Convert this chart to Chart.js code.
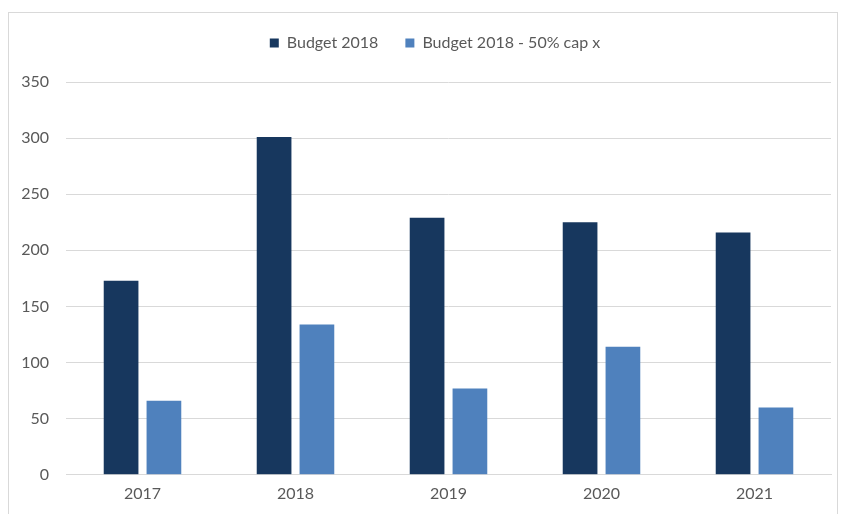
<!DOCTYPE html>
<html>
<head>
<meta charset="utf-8">
<script src="https://cdn.jsdelivr.net/npm/chart.js@4/dist/chart.umd.min.js"></script>
<style>
  body { margin: 0; background: #fff; }
  .frame {
    position: absolute; left: 8px; top: 12px;
    width: 830px; height: 510px;
    border: 1px solid #d9d9d9; box-sizing: border-box;
  }
  canvas { display: block; }
</style>
</head>
<body>
<div class="frame"><canvas id="myChart" width="828" height="508"></canvas></div>
<script>
// budget per year, full vs. 50% capex
const years = ['2017', '2018', '2019', '2020', '2021']
const budget = [173, 301, 229, 225, 216]
const budgetCapped = [66, 134, 77, 114, 60]
const yTicks = [0, 50, 100, 150, 200, 250, 300, 350]

const gray = '#595959'
const font = {family: 'Lato, "Open Sans", sans-serif', size: 16}

// legend: a bit more room below it, and nudged right / up
const legendTweak = {
  id: 'legendTweak',
  beforeInit(chart) {
    const fit = chart.legend.fit
    chart.legend.fit = function() {
      fit.bind(chart.legend)()
      this.height += 16
    }
  },
  afterLayout(chart) {
    const lg = chart.legend
    lg.left += 15; lg.right += 15
    lg.top -= 5; lg.bottom -= 5
  }
}

const ctx = document.getElementById('myChart')
const myChart = new Chart(ctx, {
  type: 'bar',
  data: {
    labels: years,
    datasets: [{
      label: 'Budget 2018',
      data: budget,
      backgroundColor: '#17375e',
      categoryPercentage: 0.56,
      barPercentage: 0.81
    }, {
      label: 'Budget 2018 - 50% cap x',
      data: budgetCapped,
      backgroundColor: '#4f81bd',
      categoryPercentage: 0.56,
      barPercentage: 0.81
    }]
  },
  plugins: [legendTweak],
  options: {
    responsive: false,
    animation: false,
    layout: {padding: {left: 0, right: 6, top: 0, bottom: 17}},
    plugins: {
      tooltip: {enabled: false},
      legend: {
        position: 'top',
        labels: {
          color: gray, font: font,
          boxWidth: 9, boxHeight: 9,
          padding: 27
        }
      }
    },
    scales: {
      x: {
        grid: {display: false},
        border: {color: '#d9d9d9'},
        ticks: {color: gray, font: font, padding: 1}
      },
      y: {
        min: 0, max: 350,
        afterBuildTicks: (axis) => { axis.ticks = yTicks.map(v => ({value: v})) },
        afterFit: (axis) => { axis.width = 57 },
        grid: {color: '#d9d9d9', drawTicks: false},
        border: {display: false},
        ticks: {color: gray, font: font, padding: 17}
      }
    }
  }
})
</script>
</body>
</html>
